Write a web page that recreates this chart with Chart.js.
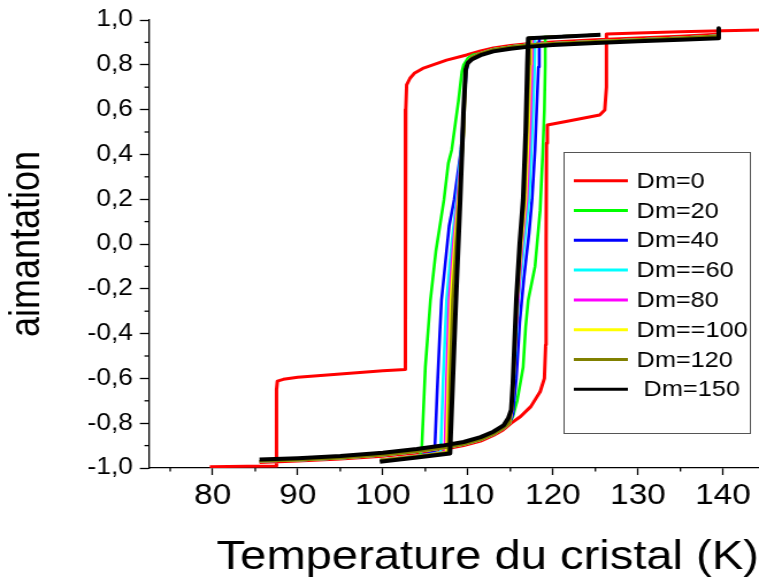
<!DOCTYPE html>
<html>
<head>
<meta charset="utf-8">
<script src="https://cdn.jsdelivr.net/npm/chart.js@4.4.1/dist/chart.umd.min.js"></script>
<style>
  html, body { margin: 0; padding: 0; background: #fff; overflow: hidden; }
  #chart { display: block; transform: scaleX(1.15); transform-origin: 0 0; }
</style>
</head>
<body>
<canvas id="chart" width="660" height="578"></canvas>
<script>
// series
const seriesLabels = ['Dm=0', 'Dm=20', 'Dm=40', 'Dm==60', 'Dm=80', 'Dm==100', 'Dm=120', ' Dm=150'];
const seriesColors = ['#ff0000', '#00ff00', '#0000ff', '#00ffff', '#ff00ff', '#ffff00', '#808000', '#000000'];

// axis ticks
const xTicks = [80, 90, 100, 110, 120, 130, 140];
const xMinor = [75, 85, 95, 105, 115, 125, 135];
const yTicks = [-1.0, -0.8, -0.6, -0.4, -0.2, 0.0, 0.2, 0.4, 0.6, 0.8, 1.0];
const yTickLabels = ['-1,0', '-0,8', '-0,6', '-0,4', '-0,2', '0,0', '0,2', '0,4', '0,6', '0,8', '1,0'];
const yMinor = [-0.9, -0.7, -0.5, -0.3, -0.1, 0.1, 0.3, 0.5, 0.7, 0.9];

// Dm=0 (red)
const redHeatT = [85.5, 90, 95, 100, 104, 107, 109.5, 111.5, 113, 114.15, 115.1, 116.2, 117.4, 118.5, 119.0, 119.15, 119.2, 119.25, 119.35, 122, 125.5, 126.1, 126.3, 126.3, 130, 135, 140, 144.24];
const redHeatM = [-0.975, -0.969, -0.96, -0.948, -0.933, -0.918, -0.9, -0.88, -0.855, -0.83, -0.80, -0.77, -0.726, -0.66, -0.6, -0.45, 0.0, 0.45, 0.531, 0.55, 0.576, 0.598, 0.7, 0.937, 0.942, 0.947, 0.952, 0.955];
const redCoolT = [139.3, 135, 130, 125, 120, 117, 115, 113, 111.5, 109.85, 107.5, 104.7, 103.7, 103.2, 102.8, 102.7, 102.65, 102.65, 100, 95, 90, 88.3, 87.6, 87.5, 87.5, 84, 79.65];
const redCoolM = [0.936, 0.928, 0.92, 0.912, 0.902, 0.894, 0.886, 0.875, 0.862, 0.844, 0.821, 0.784, 0.762, 0.74, 0.71, 0.6, 0.0, -0.56, -0.566, -0.58, -0.595, -0.604, -0.612, -0.65, -0.991, -0.992, -0.994];

// Dm=150 (black)
const blackHeatT = [85.5, 90, 95, 100, 104, 107, 109.5, 111.5, 113, 114.2, 114.75, 115.1, 115.3, 115.7, 116.1, 116.5, 116.8, 117.0, 117.1, 121, 125.6];
const blackHeatM = [-0.962, -0.956, -0.946, -0.932, -0.915, -0.9, -0.884, -0.862, -0.838, -0.81, -0.778, -0.74, -0.62, -0.25, 0.0, 0.2, 0.5, 0.8, 0.918, 0.925, 0.934];
const blackCoolT = [139.5, 139.5, 135, 130, 125, 120, 117, 115, 113, 111.5, 110.5, 110.0, 109.75, 109.5, 109.3, 109.1, 108.55, 107.9, 104, 99.65];
const blackCoolM = [0.963, 0.918, 0.912, 0.905, 0.897, 0.888, 0.88, 0.872, 0.86, 0.843, 0.825, 0.808, 0.78, 0.6, 0.4, 0.2, -0.3, -0.935, -0.953, -0.972];

// parts shared by Dm=20..120
const bandLowT = [85.5, 90, 95, 100, 104, 107, 109.5, 111.5, 113, 114.2, 114.9];
const bandLowM = [-0.97, -0.965, -0.956, -0.943, -0.927, -0.912, -0.895, -0.874, -0.85, -0.822, -0.80];
const topLineT = [121, 125.5];
const topLineM = [0.927, 0.934];
const bandUpT = [139.3, 135, 130, 125, 120, 117, 115, 113, 111.5];
const bandUpM = [0.93, 0.921, 0.913, 0.905, 0.896, 0.889, 0.881, 0.869, 0.852];
const tailT = [104, 99.7];
const tailM = [-0.948, -0.965];

// heating jumps
const greenHeatT = [115.3, 115.8, 116.5, 116.8, 117.1, 117.9, 118.5, 118.8, 119.0, 119.1, 119.1];
const greenHeatM = [-0.77, -0.70, -0.55, -0.37, -0.25, -0.10, 0.15, 0.4, 0.6, 0.8, 0.925];
const blueHeatT = [115.3, 115.7, 116.1, 116.6, 117.2, 117.55, 117.9, 118.3, 118.4];
const blueHeatM = [-0.76, -0.6, -0.35, -0.15, 0.05, 0.2, 0.42, 0.79, 0.922];
const cyanHeatT = [115.2, 115.5, 115.95, 116.6, 117.2, 117.6, 117.85, 117.9];
const cyanHeatM = [-0.74, -0.55, -0.25, 0.0, 0.2, 0.55, 0.8, 0.922];
const magentaHeatT = [115.2, 115.45, 115.9, 116.4, 116.95, 117.35, 117.55, 117.6];
const magentaHeatM = [-0.74, -0.55, -0.25, 0.0, 0.2, 0.55, 0.8, 0.921];
const yellowHeatT = [115.2, 115.45, 115.8, 116.3, 116.8, 117.15, 117.35, 117.4];
const yellowHeatM = [-0.73, -0.55, -0.25, 0.0, 0.2, 0.55, 0.8, 0.92];
const oliveHeatT = [115.15, 115.4, 115.75, 116.2, 116.65, 117.0, 117.2, 117.25];
const oliveHeatM = [-0.73, -0.55, -0.25, 0.0, 0.2, 0.55, 0.8, 0.92];

// cooling jumps
const greenCoolT = [110.6, 110.0, 109.5, 109.3, 108.9, 108.1, 107.7, 107.2, 106.25, 105.6, 105.0, 104.6, 104.4];
const greenCoolM = [0.845, 0.83, 0.8, 0.77, 0.64, 0.42, 0.36, 0.2, -0.03, -0.25, -0.55, -0.9, -0.945];
const blueCoolT = [110.5, 110.0, 109.8, 109.2, 108.4, 107.8, 106.9, 106.7, 106.4, 106.1];
const blueCoolM = [0.835, 0.81, 0.76, 0.42, 0.2, 0.08, -0.25, -0.4, -0.65, -0.93];
const cyanCoolT = [110.5, 110.0, 109.75, 109.4, 108.7, 108.1, 107.5, 107.1, 106.8];
const cyanCoolM = [0.835, 0.81, 0.77, 0.5, 0.2, 0.0, -0.25, -0.6, -0.93];
const magentaCoolT = [110.5, 110.0, 109.75, 109.45, 108.8, 108.3, 107.8, 107.5, 107.3];
const magentaCoolM = [0.835, 0.81, 0.77, 0.5, 0.2, 0.0, -0.25, -0.6, -0.93];
const yellowCoolT = [110.5, 110.0, 109.75, 109.5, 108.9, 108.45, 108.0, 107.7, 107.5];
const yellowCoolM = [0.835, 0.81, 0.77, 0.5, 0.2, 0.0, -0.25, -0.6, -0.93];
const oliveCoolT = [110.5, 110.0, 109.75, 109.5, 109.0, 108.6, 108.2, 107.9, 107.7];
const oliveCoolM = [0.835, 0.81, 0.775, 0.5, 0.2, 0.0, -0.25, -0.6, -0.93];

function pts(T, M) {
  return T.map((t, i) => ({ x: t, y: M[i] }));
}

function loop(heat, cool) {
  // y null breaks the line between the two branches
  return heat.concat([{ x: heat[heat.length - 1].x, y: null }], cool);
}

function coloredLoop(hT, hM, cT, cM) {
  const heat = pts(bandLowT, bandLowM).concat(pts(hT, hM), pts(topLineT, topLineM));
  const cool = pts(bandUpT, bandUpM).concat(pts(cT, cM), pts(tailT, tailM));
  return loop(heat, cool);
}

const seriesData = [
  loop(pts(redHeatT, redHeatM), pts(redCoolT, redCoolM)),
  coloredLoop(greenHeatT, greenHeatM, greenCoolT, greenCoolM),
  coloredLoop(blueHeatT, blueHeatM, blueCoolT, blueCoolM),
  coloredLoop(cyanHeatT, cyanHeatM, cyanCoolT, cyanCoolM),
  coloredLoop(magentaHeatT, magentaHeatM, magentaCoolT, magentaCoolM),
  coloredLoop(yellowHeatT, yellowHeatM, yellowCoolT, yellowCoolM),
  coloredLoop(oliveHeatT, oliveHeatM, oliveCoolT, oliveCoolM),
  loop(pts(blackHeatT, blackHeatM), pts(blackCoolT, blackCoolM))
];

const lineWidths = [3, 2.6, 2.6, 2.6, 2.6, 2.6, 2.6, 4];

const datasets = seriesData.map((d, i) => ({
  label: seriesLabels[i],
  data: d,
  borderColor: seriesColors[i],
  backgroundColor: seriesColors[i],
  borderWidth: lineWidths[i],
  pointRadius: 0,
  showLine: true,
  spanGaps: false,
  tension: 0,
  borderJoinStyle: 'round',
  order: seriesData.length - i
}));

const fontFamily = '"Liberation Sans", Arial, Helvetica, sans-serif';

// minor ticks and the boxed legend
const extras = {
  id: 'extras',
  afterDraw(chart) {
    const ctx = chart.ctx;
    const xs = chart.scales.x;
    const ys = chart.scales.y;
    ctx.save();
    ctx.strokeStyle = '#000';
    ctx.lineWidth = 1.3;
    xMinor.forEach(v => {
      const px = xs.getPixelForValue(v);
      ctx.beginPath();
      ctx.moveTo(px, xs.top);
      ctx.lineTo(px, xs.top + 3.5);
      ctx.stroke();
    });
    yMinor.forEach(v => {
      const py = ys.getPixelForValue(v);
      ctx.beginPath();
      ctx.moveTo(ys.right, py);
      ctx.lineTo(ys.right - 4, py);
      ctx.stroke();
    });

    // legend
    const bx = 490, by = 152, bw = 162, bh = 281;
    ctx.fillStyle = '#fff';
    ctx.fillRect(bx, by, bw, bh);
    ctx.strokeStyle = '#555';
    ctx.lineWidth = 1;
    ctx.strokeRect(bx + 0.5, by + 0.5, bw, bh);
    ctx.font = '22px ' + fontFamily;
    ctx.textBaseline = 'middle';
    ctx.textAlign = 'left';
    chart.data.datasets.forEach((ds, i) => {
      const y = 180.7 + i * 29.8;
      ctx.strokeStyle = ds.borderColor;
      ctx.lineWidth = 3;
      ctx.beginPath();
      ctx.moveTo(499, y);
      ctx.lineTo(546, y);
      ctx.stroke();
      ctx.fillStyle = '#000';
      ctx.fillText(ds.label, 553.5, y + 1);
    });
    ctx.restore();
  }
};

new Chart(document.getElementById('chart'), {
  type: 'scatter',
  data: { datasets: datasets },
  plugins: [extras],
  options: {
    responsive: false,
    animation: false,
    devicePixelRatio: 1,
    layout: { padding: { top: 20, right: 0, left: 0, bottom: 0 } },
    plugins: {
      legend: { display: false },
      tooltip: { enabled: false }
    },
    scales: {
      x: {
        type: 'linear',
        min: 72.51,
        max: 144.24,
        afterBuildTicks: s => { s.ticks = xTicks.map(v => ({ value: v })); },
        afterFit: s => { s.height = 110; s.paddingLeft = 0; s.paddingRight = 0; },
        ticks: {
          autoSkip: false,
          maxRotation: 0,
          padding: 4,
          color: '#000',
          font: { family: fontFamily, size: 29 },
          callback: v => String(v)
        },
        grid: { drawOnChartArea: false, tickLength: 7, tickColor: '#000', tickWidth: 1.3 },
        border: { color: '#000', width: 1.3 },
        title: {
          display: true,
          text: 'Temperature du cristal (K)',
          align: 'end',
          color: '#000',
          font: { family: fontFamily, size: 41, lineHeight: 1 },
          padding: { top: 0, bottom: 0 }
        }
      },
      y: {
        type: 'linear',
        min: -1,
        max: 1,
        afterBuildTicks: s => { s.ticks = yTicks.map(v => ({ value: v })); },
        afterFit: s => { s.width = 129.6; },
        ticks: {
          padding: 6,
          color: '#000',
          font: { family: fontFamily, size: 23 },
          callback: (v, i) => yTickLabels[i]
        },
        grid: { drawOnChartArea: false, tickLength: 8, tickColor: '#000', tickWidth: 1.3 },
        border: { color: '#000', width: 1.3 },
        title: {
          display: true,
          text: 'aimantation',
          color: '#000',
          font: { family: fontFamily, size: 36, lineHeight: 1.2 },
          padding: { top: 2, bottom: 0 }
        }
      }
    }
  }
});
</script>
</body>
</html>
